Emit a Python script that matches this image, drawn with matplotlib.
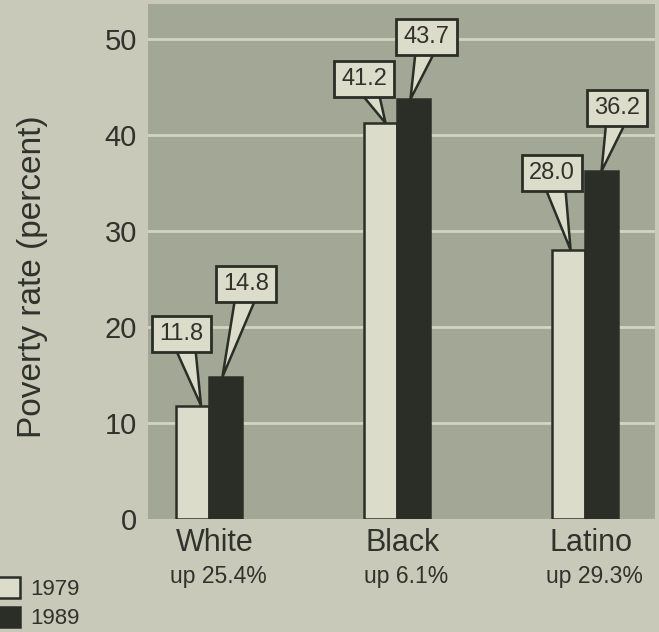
import numpy as np
import matplotlib
matplotlib.use("Agg")
import matplotlib.pyplot as plt
from matplotlib.patches import Polygon
from matplotlib.transforms import blended_transform_factory

# ---- data ----
groups = ["White", "Black", "Latino"]
changes = ["up 25.4%", "up 6.1%", "up 29.3%"]
years = ["1979", "1989"]
rate_1979 = [11.8, 41.2, 28.0]
rate_1989 = [14.8, 43.7, 36.2]
yticks = [0, 10, 20, 30, 40, 50]

# ---- style / layout ----
paper = "#c8c9b8"
plotbg = "#a3a796"
light = "#dcdccb"
dark = "#2a2e27"
txt = "#30322c"
grid = "#d2d3c3"

# callout layout (pixels): tip x-shift from bar centre, box centre offset from tip (right, up)
tip_dx_79 = [8.5, 5, 2]
tip_dx_89 = [-3, -3, 0]
box_off_79 = [(-19.5, 71.5), (-21.5, 44), (-19, 77)]
box_off_89 = [(24, 93), (16, 62.5), (15.5, 63.5)]

plt.rcParams["font.family"] = ["Liberation Sans", "DejaVu Sans"]

W, H = 659, 632
fig = plt.figure(figsize=(W / 100, H / 100), dpi=100)
fig.patch.set_facecolor(paper)
ax = fig.add_axes([148 / W, (H - 519) / H, (655 - 148) / W, (519 - 4) / H])
ax.set_facecolor(plotbg)

x = np.arange(len(groups))
w = 0.175
ax.set_xlim(-0.3245, 2.372)
ax.set_ylim(0, 53.6)

for t in yticks[1:]:
    ax.axhline(t, color=grid, lw=2, zorder=1)

b79 = ax.bar(x - w / 2, rate_1979, w, color=light, edgecolor=dark, linewidth=1.8, zorder=2)
b89 = ax.bar(x + w / 2, rate_1989, w, color=dark, edgecolor=dark, linewidth=1.8, zorder=2)

for s in ax.spines.values():
    s.set_visible(False)
ax.set_xticks([])
ax.set_yticks(yticks)
ax.tick_params(axis="y", length=0, pad=8, labelsize=21, labelcolor=txt)

fig.canvas.draw()
inv = ax.transData.inverted()


def callout(xc, val, label, tdx, off):
    tip = ax.transData.transform((xc, val)) + np.array([tdx, 0.0])
    ctr = tip + np.array(off)
    base_y = ctr[1] - 6
    pts = np.array([tip, [ctr[0] - 10, base_y], [ctr[0] + 13, base_y]])
    pts_d = inv.transform(pts)
    ax.add_patch(Polygon(pts_d, closed=True, fc=light, ec=dark, lw=1.8, zorder=4))
    cd = inv.transform(ctr)
    ax.text(cd[0], cd[1], label, ha="center", va="center", fontsize=17, color=txt,
            zorder=5,
            bbox=dict(boxstyle="square,pad=0.3", fc=light, ec=dark, lw=2.0))


for i in range(len(groups)):
    callout(x[i] - w / 2, rate_1979[i], f"{rate_1979[i]:.1f}", tip_dx_79[i], box_off_79[i])
    callout(x[i] + w / 2, rate_1989[i], f"{rate_1989[i]:.1f}", tip_dx_89[i], box_off_89[i])

bt = blended_transform_factory(ax.transData, fig.transFigure)
for i, (g, c) in enumerate(zip(groups, changes)):
    ax.text(x[i] + 0.029, 1 - 543 / H, g, transform=bt, ha="center", va="center",
            fontsize=22, color=txt)
    ax.text(x[i] + 0.048, 1 - 577 / H, c, transform=bt, ha="center", va="center",
            fontsize=16.5, color=txt)

fig.text(33 / W, 1 - 277 / H, "Poverty rate (percent)", rotation=90, ha="center",
         va="center", fontsize=24, color=txt)

leg = fig.legend(handles=[b79, b89], labels=years, loc="upper left",
                 bbox_to_anchor=(-3 / W, 1 - 577 / H), frameon=False, fontsize=16,
                 handlelength=1.05, handleheight=1.05, handletextpad=0.45,
                 labelspacing=0.3, borderpad=0, borderaxespad=0)
for t in leg.get_texts():
    t.set_color(txt)

fig.savefig("out.png", dpi=100, facecolor=paper)
